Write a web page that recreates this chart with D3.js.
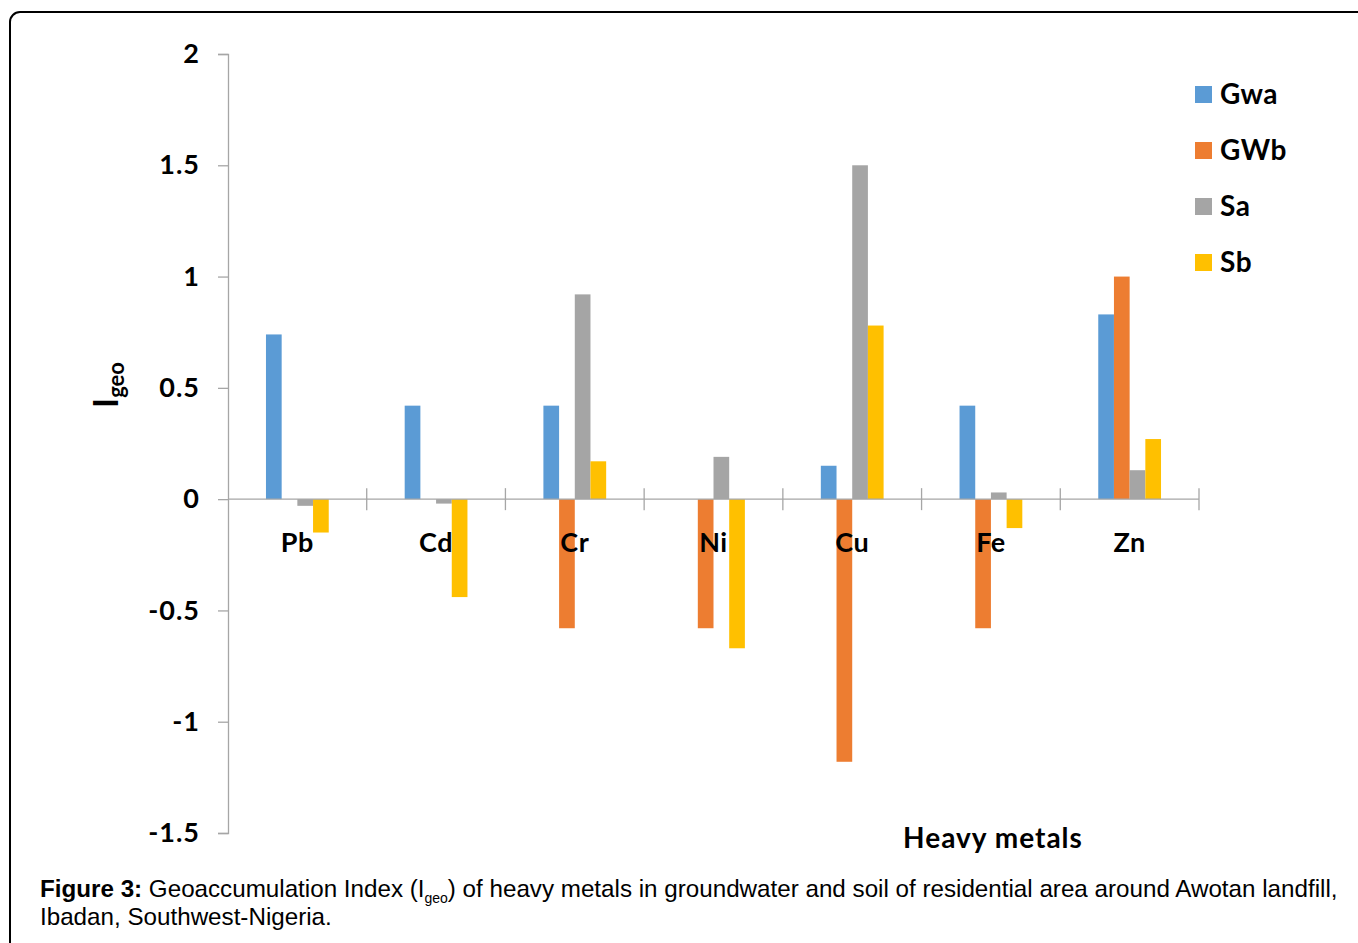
<!DOCTYPE html>
<html>
<head>
<meta charset="utf-8">
<script src="https://cdn.jsdelivr.net/npm/d3@7"></script>
<style>
  html, body { margin: 0; padding: 0; background: #fff; }
  svg { display: block; }
</style>
</head>
<body>
<div class="chart"></div>
<script>
const metals = ["Pb", "Cd", "Cr", "Ni", "Cu", "Fe", "Zn"]
const seriesNames = ["Gwa", "GWb", "Sa", "Sb"]
const gwa = [0.74, 0.42, 0.42, 0, 0.15, 0.42, 0.83]
const gwb = [0, 0, -0.58, -0.58, -1.18, -0.58, 1.0]
const sa = [-0.03, -0.02, 0.92, 0.19, 1.5, 0.03, 0.13]
const sb = [-0.15, -0.44, 0.17, -0.67, 0.78, -0.13, 0.27]
const yTicks = [2, 1.5, 1, 0.5, 0, -0.5, -1, -1.5]
const colors = ["#5b9bd5", "#ed7d31", "#a5a5a5", "#ffc000"]

const width = 1358
const height = 943
const margin = { top: 54, right: 159, bottom: 110, left: 228 }
const font = "Lato, 'Open Sans', sans-serif"
const capFont = "'Liberation Sans', Arial, sans-serif"

const rows = metals.map((m, i) => ({ metal: m, values: [gwa[i], gwb[i], sa[i], sb[i]] }))

const svg = d3.select(".chart").append("svg").attr("width", width).attr("height", height)

// figure frame
svg.append("rect")
  .attr("x", 10).attr("y", 12)
  .attr("width", 1400).attr("height", 1000)
  .attr("rx", 10)
  .attr("fill", "none").attr("stroke", "#000").attr("stroke-width", 2)

const yScale = d3.scaleLinear().domain([-1.5, 2]).range([height - margin.bottom, margin.top])
const xScale = d3.scaleBand().domain(metals).range([margin.left, width - margin.right]).paddingInner(0).paddingOuter(0)
const innerX = d3.scaleBand().domain(seriesNames).range([0, xScale.bandwidth()]).paddingOuter(2.42).paddingInner(0)

const axisColor = "#a6a6a6"

// bars
const groups = svg.append("g").selectAll("g").data(rows).join("g")
  .attr("transform", d => `translate(${xScale(d.metal)},0)`)

groups.selectAll("rect")
  .data(d => d.values.map((v, i) => ({ key: seriesNames[i], value: v, i })))
  .join("rect")
  .attr("x", d => innerX(d.key))
  .attr("width", innerX.bandwidth())
  .attr("y", d => yScale(Math.max(0, d.value)))
  .attr("height", d => Math.abs(yScale(d.value) - yScale(0)))
  .attr("fill", d => colors[d.i])

// y axis
const yAxis = d3.axisLeft(yScale).tickValues(yTicks).tickSize(10).tickPadding(14).tickFormat(d => d)
const yAxisGroup = svg.append("g").attr("transform", `translate(${margin.left},0)`).call(yAxis)
yAxisGroup.select(".domain").attr("stroke", axisColor).attr("stroke-width", 1.3)
yAxisGroup.selectAll(".tick line").attr("stroke", axisColor).attr("stroke-width", 1.3)
yAxisGroup.selectAll(".tick text")
  .attr("fill", "#000").style("font-family", font).style("font-size", "27px").style("font-weight", "bold")
  .style("letter-spacing", "1px")
  .attr("dx", -4)

// x axis at zero
const y0 = yScale(0)
const xAxisGroup = svg.append("g")
xAxisGroup.append("line")
  .attr("x1", margin.left).attr("x2", width - margin.right)
  .attr("y1", y0).attr("y2", y0)
  .attr("stroke", axisColor).attr("stroke-width", 1.3)
const tickXs = metals.map(m => xScale(m)).concat([xScale(metals[metals.length - 1]) + xScale.bandwidth()])
xAxisGroup.selectAll(".xt").data(tickXs.slice(1)).join("line")
  .attr("x1", d => d).attr("x2", d => d)
  .attr("y1", y0 - 11).attr("y2", y0 + 11)
  .attr("stroke", axisColor).attr("stroke-width", 1.3)
xAxisGroup.selectAll(".xl").data(metals).join("text")
  .attr("x", d => xScale(d) + xScale.bandwidth() / 2)
  .attr("y", y0 + 53)
  .attr("text-anchor", "middle")
  .style("font-family", font).style("font-size", "27px").style("font-weight", "bold")
  .style("letter-spacing", "0.5px")
  .text(d => d)

// y axis title
const yTitle = svg.append("text")
  .attr("transform", "translate(118,385) rotate(-90)")
  .attr("text-anchor", "middle")
  .style("font-family", font).style("font-weight", "bold")
yTitle.append("tspan").style("font-size", "34px").text("I")
yTitle.append("tspan").style("font-size", "22px").attr("dy", 6).text("geo")

// x axis title
svg.append("text")
  .attr("x", 993).attr("y", 848)
  .attr("text-anchor", "middle")
  .style("font-family", font).style("font-size", "28px").style("font-weight", "bold")
  .style("letter-spacing", "1px")
  .text("Heavy metals")

// legend
const legend = svg.append("g").selectAll("g").data(seriesNames).join("g")
  .attr("transform", (d, i) => `translate(1195,${86 + i * 56})`)
legend.append("rect").attr("width", 17).attr("height", 17).attr("fill", (d, i) => colors[i])
legend.append("text")
  .attr("x", 25).attr("y", 18)
  .style("font-family", font).style("font-size", "28px").style("font-weight", "bold")
  .style("letter-spacing", "0.5px")
  .text(d => d)

// caption
const cap = svg.append("text")
  .attr("x", 40).attr("y", 897)
  .style("font-family", capFont).style("font-size", "24.2px")
cap.append("tspan").style("font-weight", "bold").text("Figure 3:")
cap.append("tspan").text(" Geoaccumulation Index (I")
cap.append("tspan").style("font-size", "14px").attr("dy", 6).text("geo")
cap.append("tspan").attr("dy", -6).text(") of heavy metals in groundwater and soil of residential area around Awotan landfill,")
svg.append("text")
  .attr("x", 40).attr("y", 925)
  .style("font-family", capFont).style("font-size", "24.2px")
  .text("Ibadan, Southwest-Nigeria.")
</script>
</body>
</html>
